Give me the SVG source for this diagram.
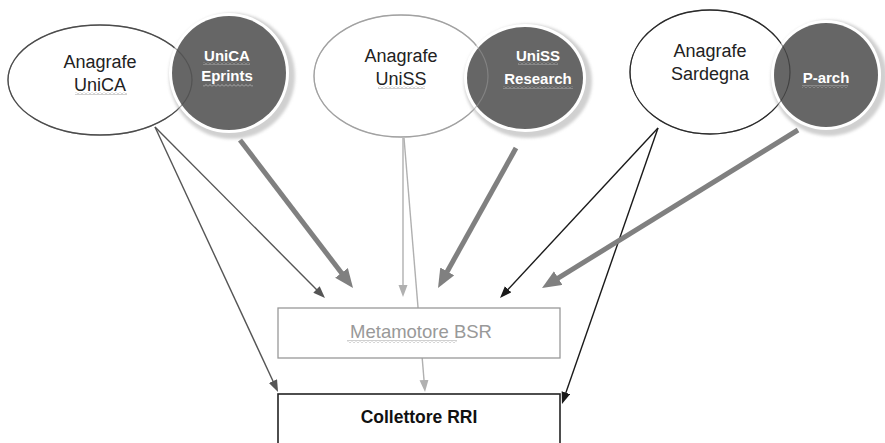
<svg xmlns="http://www.w3.org/2000/svg" width="885" height="443" viewBox="0 0 885 443">
<style>
.lbl{font-family:"Liberation Sans",Arial,sans-serif;font-size:18px;fill:#222;text-anchor:middle}
.wl{font-family:"Liberation Sans",Arial,sans-serif;font-size:15px;font-weight:bold;fill:#fff;text-anchor:middle}
.thin{fill:none;stroke-width:1.4}
.thick{fill:none;stroke:#808080;stroke-width:5}
.dark{fill:#666}
.ring{fill:#fff}
.shadow{fill:#d0d0d0;filter:url(#blur)}
</style>
<defs>
<filter id="blur" x="-20%" y="-20%" width="140%" height="140%"><feGaussianBlur stdDeviation="1.5"/></filter>
<marker id="mDark" markerUnits="userSpaceOnUse" markerWidth="13" markerHeight="10" refX="1" refY="4.5" orient="auto"><path d="M0,0 L12,4.5 L0,9 z" fill="#555"/></marker>
<marker id="mLight" markerUnits="userSpaceOnUse" markerWidth="13" markerHeight="10" refX="1" refY="4.5" orient="auto"><path d="M0,0 L12,4.5 L0,9 z" fill="#b0b0b0"/></marker>
<marker id="mBlack" markerUnits="userSpaceOnUse" markerWidth="13" markerHeight="10" refX="1" refY="4.5" orient="auto"><path d="M0,0 L12,4.5 L0,9 z" fill="#1a1a1a"/></marker>
<marker id="mThick" markerUnits="userSpaceOnUse" markerWidth="20" markerHeight="17" refX="2" refY="8" orient="auto"><path d="M0,0 L19,8 L0,16 z" fill="#808080"/></marker>
<pattern id="sqG" width="4" height="3" patternUnits="userSpaceOnUse"><path d="M0,2.5 L2,0.5 L4,2.5" fill="none" stroke="#8a8a8a" stroke-width="0.8"/></pattern>
<pattern id="sqW" width="4" height="3" patternUnits="userSpaceOnUse"><path d="M0,2.5 L2,0.5 L4,2.5" fill="none" stroke="#bdbdbd" stroke-width="0.8"/></pattern>
</defs>

<g id="connectors">
<path class="thin" stroke="#555" d="M155,127 L317.2,290.2" marker-end="url(#mDark)"/>
<path class="thin" stroke="#555" d="M155,127 L273.4,382" marker-end="url(#mDark)"/>
<path class="thick" d="M240,140 L342.7,274.5" marker-end="url(#mThick)"/>
<path class="thin" stroke="#b0b0b0" d="M403,138 L403,286" marker-end="url(#mLight)"/>
<path class="thin" stroke="#b0b0b0" d="M404,138 L424.1,381" marker-end="url(#mLight)"/>
<path class="thick" d="M516,148 L446.3,273.2" marker-end="url(#mThick)"/>
<path class="thin" stroke="#1a1a1a" d="M658,128 L507.5,290" marker-end="url(#mBlack)"/>
<path class="thin" stroke="#1a1a1a" d="M658,128 L565.6,393.6" marker-end="url(#mBlack)"/>
<path class="thick" d="M798,130 L556.5,279.1" marker-end="url(#mThick)"/>
</g>

<g id="anagrafe-unica">
<ellipse cx="100" cy="80" rx="92" ry="55" fill="#fff" stroke="#555" stroke-width="1.3"/>
<text class="lbl" x="100" y="68">Anagrafe</text>
<text class="lbl" x="100" y="91">UniCA</text>
<rect x="75" y="92" width="52" height="3" fill="url(#sqG)"/>
</g>
<g id="unica-eprints">
<circle class="shadow" cx="232" cy="76" r="63"/>
<circle class="ring" cx="229" cy="73" r="60"/>
<circle class="dark" cx="229" cy="73" r="57"/>
<ellipse cx="100" cy="80" rx="92" ry="55" fill="none" stroke="#444" stroke-width="1.2" opacity="0.55"/>
<text class="wl" x="227" y="61">UniCA</text>
<text class="wl" x="227" y="81">Eprints</text>
<rect x="203" y="62" width="47" height="3" fill="url(#sqW)"/>
<rect x="203" y="84" width="50" height="3" fill="url(#sqW)"/>
</g>

<g id="anagrafe-uniss">
<ellipse cx="401" cy="76" rx="87" ry="61" fill="#fff" stroke="#aaa" stroke-width="1.3"/>
<text class="lbl" x="401" y="62">Anagrafe</text>
<text class="lbl" x="401" y="85">UniSS</text>
<rect x="378" y="86" width="47" height="3" fill="url(#sqG)"/>
</g>
<g id="uniss-research">
<ellipse class="shadow" cx="528" cy="81" rx="64" ry="57"/>
<ellipse class="ring" cx="525" cy="78" rx="61" ry="54"/>
<ellipse class="dark" cx="525" cy="78" rx="58" ry="51"/>
<ellipse cx="401" cy="76" rx="87" ry="61" fill="none" stroke="#999" stroke-width="1.2" opacity="0.55"/>
<text class="wl" x="538" y="61">UniSS</text>
<text class="wl" x="538" y="84">Research</text>
<rect x="518" y="62" width="40" height="3" fill="url(#sqW)"/>
<rect x="503" y="86" width="70" height="3" fill="url(#sqW)"/>
</g>

<g id="anagrafe-sardegna">
<ellipse cx="710" cy="72" rx="80" ry="62" fill="#fff" stroke="#333" stroke-width="1.3"/>
<text class="lbl" x="710" y="57">Anagrafe</text>
<text class="lbl" x="710" y="80">Sardegna</text>
</g>
<g id="p-arch">
<circle class="shadow" cx="829" cy="78" r="58"/>
<circle class="ring" cx="826" cy="75" r="55"/>
<circle class="dark" cx="826" cy="75" r="52"/>
<ellipse cx="710" cy="72" rx="80" ry="62" fill="none" stroke="#222" stroke-width="1.2" opacity="0.55"/>
<text class="wl" x="826" y="83">P-arch</text>
<rect x="802" y="85" width="46" height="3" fill="url(#sqW)"/>
</g>

<g id="metamotore-bsr">
<rect x="278" y="308" width="282" height="50" fill="#fff" stroke="#999" stroke-width="1.3"/>
<text x="421" y="338" font-family="Liberation Sans, Arial, sans-serif" font-size="18.5" fill="#999" text-anchor="middle">Metamotore BSR</text>
<rect x="347" y="340" width="110" height="3" fill="url(#sqG)"/>
</g>

<g id="collettore-rri">
<rect x="278" y="394" width="282" height="60" fill="#fff" stroke="#222" stroke-width="1.6"/>
<text x="419" y="423" font-family="Liberation Sans, Arial, sans-serif" font-size="17.5" font-weight="bold" fill="#111" text-anchor="middle">Collettore RRI</text>
</g>
</svg>
